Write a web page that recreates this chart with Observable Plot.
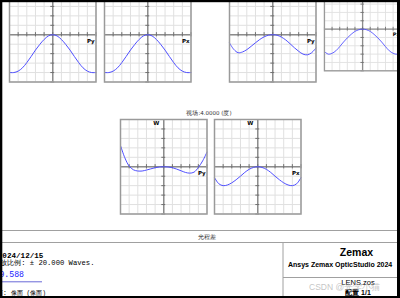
<!DOCTYPE html>
<html><head><meta charset="utf-8">
<script src="https://cdn.jsdelivr.net/npm/d3@7"></script>
<script src="https://cdn.jsdelivr.net/npm/@observablehq/plot@0.6"></script>
<style>
html,body{margin:0;padding:0;background:#fff;}
#root{position:relative;width:400px;height:298px;overflow:hidden;background:#fff;}
.cell{position:absolute;}
.cell svg{overflow:visible;display:block;}
#overlay{position:absolute;left:0;top:0;}
</style></head><body><div id="root"></div>
<script>
// Normalized pupil coordinate (Px / Py)
const pupil = [-1,-0.9,-0.8,-0.7,-0.6,-0.5,-0.4,-0.3,-0.2,-0.1,0,0.1,0.2,0.3,0.4,0.5,0.6,0.7,0.8,0.9,1];
// OPD in waves
const field1Py = [-16,-16,-15.4,-14,-11.8,-9.2,-6.5,-4.1,-2,-0.5,0,-0.5,-2,-4.1,-6.5,-9.2,-11.8,-14,-15.4,-16,-16];
const field1Px = [-16,-16,-15.4,-14,-11.8,-9.2,-6.5,-4.1,-2,-0.5,0,-0.5,-2,-4.1,-6.5,-9.2,-11.8,-14,-15.4,-16,-16];
const field2Py = [-3.5,-6.2,-7.6,-7.3,-6.3,-4.9,-3.4,-2.0,-0.9,-0.2,0,-0.2,-1.0,-2.2,-3.8,-5.5,-7.0,-8.2,-8.5,-7.6,-5.6];
const field2Px = [-10.8,-12,-11.6,-10.4,-8.4,-6.2,-4.2,-2.5,-1.1,-0.3,0,-0.3,-1.1,-2.5,-4.2,-6.2,-8.4,-10.4,-11.6,-12,-10.8];
const field3Py = [9.0,3.8,0.3,-1.3,-1.8,-1.8,-1.4,-0.9,-0.4,-0.1,0,-0.1,-0.4,-1.0,-1.7,-2.4,-2.7,-2.3,-0.3,2.5,6.2];
const field3Px = [-4.6,-7.2,-8.0,-7.7,-6.8,-5.5,-4.0,-2.4,-1.1,-0.3,0,-0.3,-1.1,-2.4,-4.0,-5.5,-6.8,-7.7,-8.0,-7.2,-4.6];
// Grid ticks
const xTicks = [-1,-0.8,-0.6,-0.4,-0.2,0,0.2,0.4,0.6,0.8,1];
const yTicks = [-20,-16,-12,-8,-4,0,4,8,12,16,20];
const maxScale = 20;
// Labels
const fieldTitle = "视场:4.0000 (度)";
const footerTitle = "光程差";

const root = document.getElementById("root");

function fan(values, label, showW, left, top) {
  const data = pupil.map((p, i) => ({p, w: values[i]}));
  const marks = [
    Plot.ruleX(xTicks, {stroke: "#e0e0e0", strokeWidth: 1}),
    Plot.ruleY(yTicks, {stroke: "#e0e0e0", strokeWidth: 1}),
    Plot.ruleY([0], {stroke: "#8c8c8c", strokeWidth: 1.5}),
    Plot.ruleX([0], {stroke: "#8c8c8c", strokeWidth: 1.5}),
    Plot.ruleX(xTicks, {y1: -0.9, y2: 0.9, stroke: "#707070", strokeWidth: 1}),
    Plot.ruleY(yTicks, {x1: -0.045, x2: 0.045, stroke: "#707070", strokeWidth: 1}),
    Plot.line(data, {x: "p", y: "w", stroke: "#5050ff", strokeWidth: 1, curve: "catmull-rom"}),
    Plot.frame({stroke: "#9a9a9a", strokeWidth: 1.5}),
    Plot.text([label], {x: 0.88, y: -2.7, text: d => d, fontSize: 5.5, fontWeight: "bold", fill: "#000", fontFamily: "DejaVu Sans"})
  ];
  if (showW) marks.push(Plot.text(["W"], {x: -0.1, y: 18.3, text: d => d, fontSize: 5.5, fontWeight: "bold", fill: "#000", textAnchor: "end", fontFamily: "DejaVu Sans"}));
  const svg = Plot.plot({
    width: 86.5, height: 94.5,
    marginTop: 0, marginRight: 0, marginBottom: 0, marginLeft: 0,
    x: {domain: [-1, 1], axis: null},
    y: {domain: [-maxScale, maxScale], axis: null},
    style: {background: "transparent", overflow: "visible"},
    marks
  });
  const div = document.createElement("div");
  div.className = "cell";
  div.style.left = left + "px";
  div.style.top = top + "px";
  div.appendChild(svg);
  root.appendChild(div);
}

fan(field1Py, "Py", false, 9.3, -13.5);
fan(field1Px, "Px", false, 104.3, -13.5);
fan(field2Py, "Py", false, 229.3, -13.5);
fan(field2Px, "Px", false, 323.7, -13.5);
fan(field3Py, "Py", true, 119.5, 118.5);
fan(field3Px, "Px", true, 213.5, 118.5);

// Overlay: titles, footer block, frame
const ov = d3.select(root).append("svg").attr("id", "overlay").attr("width", 400).attr("height", 298);
function txt(x, y, s, o = {}) {
  return ov.append("text").attr("x", x).attr("y", y).text(s)
    .attr("font-family", o.family || "DejaVu Sans")
    .attr("font-size", o.size || 6)
    .attr("font-weight", o.weight || "normal")
    .attr("fill", o.fill || "#000")
    .attr("text-anchor", o.anchor || "start")
    .attr("dominant-baseline", "central");
}
function line(x1, y1, x2, y2, stroke = "#a0a0a0", w = 1) {
  ov.append("line").attr("x1", x1).attr("y1", y1).attr("x2", x2).attr("y2", y2).attr("stroke", stroke).attr("stroke-width", w);
}
txt(209, 112.5, fieldTitle, {size: 5.5, fill: "#333", anchor: "middle"});

line(0, 230.5, 400, 230.5);
line(0, 242.5, 400, 242.5);
txt(207, 236.8, footerTitle, {size: 5.5, anchor: "middle", fill: "#333"});
line(283, 242.5, 283, 298);
line(283, 277.5, 400, 277.5);

txt(-2.2, 256, "2024/12/15", {family: "Liberation Mono", size: 7.6, weight: "bold"});
txt(94.5, 263, "最大缩放比例: ± 20.000 Waves.", {family: "Liberation Mono", size: 7.2, anchor: "end"});
txt(24, 274.5, "9.588", {family: "Liberation Mono", size: 8.2, anchor: "end", fill: "#2020ff"});
line(0, 281.8, 42, 281.8, "#6a6ad8", 1);
txt(46, 293.3, "表面: 像面 (像面)", {family: "Liberation Mono", size: 6.3, anchor: "end"});

txt(356.5, 251.5, "Zemax", {family: "Liberation Sans", size: 10.5, weight: "bold", anchor: "middle"});
txt(288, 264, "Ansys Zemax OpticStudio 2024", {family: "Liberation Sans", size: 7, weight: "bold"});
txt(358, 282, "LENS.zos", {family: "Liberation Sans", size: 7.5, anchor: "middle"});
txt(358, 292.3, "配置 1/1", {family: "Liberation Sans", size: 7, weight: "bold", anchor: "middle"});
txt(309, 286.5, "CSDN @光学小猫", {family: "Liberation Sans", size: 8.5, fill: "rgba(170,170,170,0.7)"});

// Black frame of the screenshot
ov.append("rect").attr("x", 0).attr("y", 0).attr("width", 400).attr("height", 2.2).attr("fill", "#000");
ov.append("rect").attr("x", 0).attr("y", 0).attr("width", 2.3).attr("height", 298).attr("fill", "#000");
ov.append("rect").attr("x", 397).attr("y", 0).attr("width", 3).attr("height", 298).attr("fill", "#000");
ov.append("rect").attr("x", 0).attr("y", 296).attr("width", 400).attr("height", 2).attr("fill", "#000");
</script>
</body></html>
